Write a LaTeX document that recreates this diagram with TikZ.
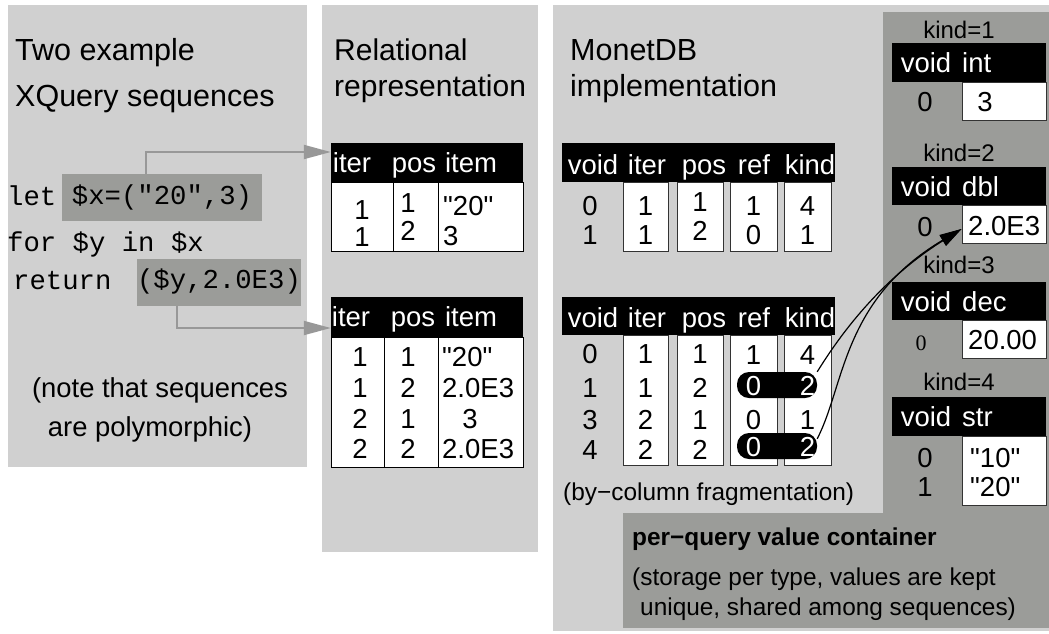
\documentclass[tikz,border=0pt]{standalone}
\usepackage{fontspec}
\setmainfont{Liberation Sans}[Ligatures=TeXOff]
\newfontfamily\codefont{Liberation Mono}
\newfontfamily\romanfont{Liberation Serif}
\usetikzlibrary{arrows.meta}
\definecolor{panelgray}{RGB}{208,208,208}
\definecolor{boxgray}{RGB}{155,156,153}
\definecolor{linkgray}{RGB}{152,152,152}
\newcommand\pxsize[1]{\fontsize{#1}{#1}\selectfont}
\begin{document}
\begin{tikzpicture}[x=1pt,y=-1pt,
  title/.style={font=\pxsize{30.5}, anchor=base west, inner sep=0pt},
  code/.style={font=\codefont\pxsize{27.3}, inner sep=0pt},
  codebox/.style={code, fill=boxgray, minimum height=47pt, text height=20.5pt, text depth=6.8pt},
  val/.style={font=\pxsize{27.5}, inner sep=0pt, text height=19.7pt, text depth=0pt},
  hval/.style={val, text=white},
  lbl/.style={val, font=\pxsize{24}, text height=17.2pt},
  note/.style={val, font=\pxsize{24.4}, text height=17.5pt, anchor=west},
  bignote/.style={val, font=\pxsize{27.4}, text height=19.6pt},
  hdr/.style={fill=black, draw=none, inner sep=0pt, minimum height=39pt},
  body/.style={fill=white, draw=black, line width=1pt, inner sep=0pt},
  colbox/.style={fill=white, draw=black!80, line width=1pt},
  pill/.style={fill=black, rounded corners=12pt, minimum width=80pt, minimum height=26pt, inner sep=0pt},
  link/.style={draw=linkgray, line width=2pt, -{Triangle[length=27pt,width=14pt]}, color=linkgray},
  refarrow/.style={draw=black, line width=1.2pt, -{Triangle[length=22pt,width=12pt]}},
]
\useasboundingbox (0,0) rectangle (1049,633);
\fill[white] (0,0) rectangle (1049,633);

% ---------- left panel: the XQuery source ----------
\fill[panelgray] (8,5) rectangle (307,467);
\node[title] (lt1) at (15,60) {Two example};
\node[title] (lt2) at (15,106) {XQuery sequences};
\node[code, anchor=base west] (let) at (7,205) {let};
\node[codebox, minimum width=200pt] (xbox) at (162,197.5) {\$x=("20",3)};
\node[code, anchor=base west] (for) at (7,251) {for \$y in \$x};
\node[code, anchor=base west] (ret) at (13,289) {return};
\node[codebox, minimum width=162pt] (ybox) at (219,282) {(\$y,2.0E3)};
\node[bignote] (n1) at (160,388) {(note that sequences};
\node[bignote] (n2) at (150,427) {are polymorphic)};

% ---------- middle panel: relational tables ----------
\fill[panelgray] (322,5) rectangle (538,552);
\node[title, font=\pxsize{30}] (mt1) at (334,60) {Relational};
\node[title, font=\pxsize{30}] (mt2) at (334,96) {representation};

\node[hdr, minimum width=192pt] (t1h) at (427,162.5) {};
\node[body, minimum width=192pt, minimum height=69pt] (t1b) at (427,216.5) {};
\draw[line width=1pt] (393,182) -- (393,251) (438,182) -- (438,251);
\foreach \x/\t [count=\i] in {352/iter,414/pos,471/item}
  \node[hval, name=t1c\i] at (\x,163) {\t};
\foreach \x/\y/\t [count=\i] in {362/210/1,362/237/1,408/203/1,408/231/2}
  \node[val, name=t1v\i] at (\x,\y) {\t};
\node[val, anchor=west] (t1s1) at (443,206) {"20"};
\node[val, anchor=west] (t1s2) at (443,236) {3};

\node[hdr, minimum width=192pt, minimum height=40pt] (t2h) at (427,317) {};
\node[body, minimum width=192pt, minimum height=130pt] (t2b) at (427,402) {};
\draw[line width=1pt] (384,337) -- (384,467) (438,337) -- (438,467);
\foreach \x/\t [count=\i] in {351/iter,413/pos,471/item}
  \node[hval, name=t2c\i] at (\x,317) {\t};
\foreach \y/\a/\b [count=\i] in {357/1/1,388/1/2,419/2/1,449/2/2}{
  \node[val, name=t2a\i] at (360,\y) {\a};
  \node[val, name=t2b\i] at (408,\y) {\b};
}
\node[val, anchor=west] (t2s1) at (442,357) {"20"};
\node[val, anchor=west] (t2s2) at (442,388) {2.0E3};
\node[val] (t2s3) at (470,419) {3};
\node[val, anchor=west] (t2s4) at (442,449) {2.0E3};

% ---------- right panel: MonetDB columns ----------
\fill[panelgray] (553,5) rectangle (1049,631);
\fill[boxgray] (883,12) rectangle (1049,628);
\fill[boxgray] (623,513) rectangle (1049,628);
\node[title] (rt1) at (570,60) {MonetDB};
\node[title] (rt2) at (570,96) {implementation};

% first sequence
\node[hdr, minimum width=273pt] (m1h) at (698.5,162.5) {};
\foreach \x/\t [count=\i] in {593/void,647/iter,704/pos,754/ref,810/kind}
  \node[hval, name=m1c\i] at (\x,165) {\t};
\foreach \l/\r in {623/668,677/723,730/777,784/831}
  \draw[colbox] (\l,182) rectangle (\r,251);
\foreach \x/\a/\b [count=\i] in {590/0/1,645.5/1/1,753.5/1/0,807.5/4/1}{
  \node[val, name=m1a\i] at (\x,206) {\a};
  \node[val, name=m1b\i] at (\x,235) {\b};
}
\node[val] (m1p1) at (700,202) {1};
\node[val] (m1p2) at (700,231) {2};

% second sequence
\node[hdr, minimum width=273pt, minimum height=38pt] (m2h) at (698.5,316) {};
\foreach \x/\t [count=\i] in {593/void,647/iter,704/pos,754/ref,810/kind}
  \node[hval, name=m2c\i] at (\x,318) {\t};
\foreach \l/\r in {623/668,677/723,730/777,784/831}
  \draw[colbox] (\l,335) rectangle (\r,465);
\node[pill] (p1) at (777,385) {};
\node[pill] (p2) at (777,446) {};
\foreach \y/\v/\it/\ps [count=\i] in {354/0/1/1,388/1/1/2,420/3/2/1,450/4/2/2}{
  \node[val, name=m2v\i] at (590,\y) {\v};
  \node[val, name=m2i\i] at (645.5,\y) {\it};
  \node[val, name=m2p\i] at (700,\y) {\ps};
}
\node[val] (m2r1) at (753.5,355) {1};
\node[val] (m2k1) at (807.5,355) {4};
\node[val] (m2r3) at (753.5,420) {0};
\node[val] (m2k3) at (807.5,420) {1};
\node[hval] (m2r2) at (753.5,386) {0};
\node[hval] (m2k2) at (807.5,386) {2};
\node[hval] (m2r4) at (753.5,447) {0};
\node[hval] (m2k4) at (807.5,447) {2};
\node[note] (frag) at (563,492) {(by−column fragmentation)};

% ---------- value container ----------
\node[lbl] (k1) at (959,30) {kind=1};
\node[hdr, minimum width=154pt] (k1h) at (969,62.5) {};
\node[hval] (k1v) at (926,63) {void};
\node[hval, anchor=west] (k1t) at (962,63) {int};
\node[colbox, minimum width=84pt, minimum height=38pt, inner sep=0pt] (b1) at (1004,101) {};
\node[val] (b1i) at (925,102) {0};
\node[val] (b1x) at (985,102) {3};

\node[lbl] (k2) at (959,153) {kind=2};
\node[hdr, minimum width=154pt, minimum height=38pt] (k2h) at (969,186) {};
\node[hval] (k2v) at (926,187) {void};
\node[hval, anchor=west] (k2t) at (962,187) {dbl};
\node[colbox, minimum width=84pt, minimum height=38pt, inner sep=0pt] (b2) at (1004,224) {};
\node[val] (b2i) at (925,227) {0};
\node[val, anchor=west] (b2x) at (968,226) {2.0E3};

\node[lbl] (k3) at (959,265) {kind=3};
\node[hdr, minimum width=154pt, minimum height=38pt] (k3h) at (969,301) {};
\node[hval] (k3v) at (926,302) {void};
\node[hval, anchor=west] (k3t) at (962,302) {dec};
\node[colbox, minimum width=84pt, minimum height=38pt, inner sep=0pt] (b3) at (1004,339) {};
\node[val, font=\romanfont\pxsize{22}, text height=14.9pt] (b3i) at (921,343) {0};
\node[val, anchor=west] (b3x) at (968,340) {20.00};

\node[lbl] (k4) at (959,382) {kind=4};
\node[hdr, minimum width=154pt] (k4h) at (969,416.5) {};
\node[hval] (k4v) at (926,417) {void};
\node[hval, anchor=west] (k4t) at (962,417) {str};
\node[colbox, minimum width=84pt, minimum height=69pt, inner sep=0pt] (b4) at (1004,470.5) {};
\node[val] (b4i) at (925,458) {0};
\node[val] (b4j) at (925,487) {1};
\node[val, anchor=west] (b4x) at (970,458) {"10"};
\node[val, anchor=west] (b4y) at (970,487) {"20"};

\node[note, font=\bfseries\pxsize{24.4}] (pq) at (632,537) {per−query value container};
\node[note] (pq1) at (632,577) {(storage per type, values are kept};
\node[note] (pq2) at (640,607) {unique, shared among sequences)};

% ---------- connectors ----------
\draw[link] ([xshift=-16pt]xbox.north) |- ([yshift=10.5pt]t1h.west);
\draw[link] ([xshift=-42pt]ybox.south) |- ([yshift=-11pt]t2h.west);
\draw[refarrow] (p1.north east) .. controls (840,335) and (880,280) .. ([yshift=-5pt]b2.west);
\draw[refarrow] ([yshift=-6pt]p2.north east) .. controls (845,385) and (842,300) .. ([yshift=-5pt]b2.west);
\end{tikzpicture}
\end{document}
